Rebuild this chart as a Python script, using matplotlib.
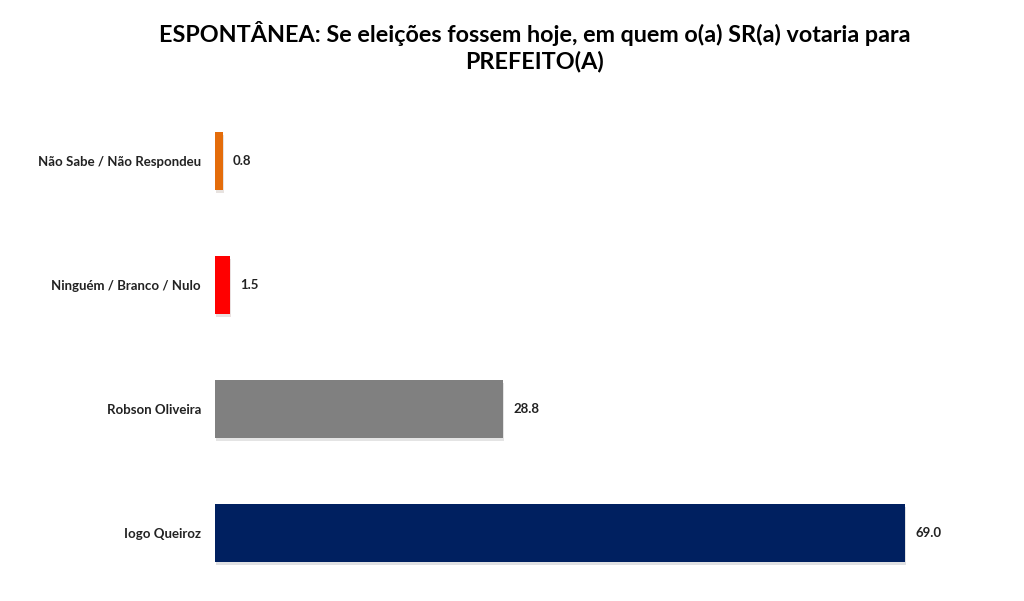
import matplotlib.pyplot as plt
import matplotlib.patheffects as pe

categorias = ["Não Sabe / Não Respondeu", "Ninguém / Branco / Nulo",
              "Robson Oliveira", "Iogo Queiroz"]
valores = [0.8, 1.5, 28.8, 69.0]
cores = ["#E46C0A", "#FF0000", "#808080", "#002060"]

plt.rcParams['font.family'] = ['Lato', 'DejaVu Sans']

fig = plt.figure(figsize=(10.24, 6.01), dpi=100)
ax = fig.add_axes([215 / 1024, 0.01, 800 / 1024, 0.825])

pos = list(range(len(categorias)))
barras = ax.barh(pos, valores, height=0.47, color=cores)
for b in barras:
    b.set_path_effects([pe.SimplePatchShadow(offset=(1, -2), alpha=0.12),
                        pe.Normal()])

for p, v in zip(pos, valores):
    ax.text(v + 1.0, p, f"{v:.1f}", va="center", ha="left",
            fontsize=9.5, fontweight="bold", color="#222222")

ax.set_xlim(0, 80)
ax.set_ylim(3.5, -0.5)
ax.set_yticks(pos)
ax.set_yticklabels(categorias, fontsize=9.5, fontweight="bold", color="#222222")
ax.tick_params(axis="y", length=0, pad=10)
ax.set_xticks([])
for s in ax.spines.values():
    s.set_visible(False)

fig.text(0.522, 0.922, "ESPONTÂNEA: Se eleições fossem hoje, em quem o(a) SR(a) votaria para\nPREFEITO(A)",
         ha="center", va="center", fontsize=16.8, fontweight="bold",
         linespacing=1.25)

fig.savefig("out.png", dpi=100)
